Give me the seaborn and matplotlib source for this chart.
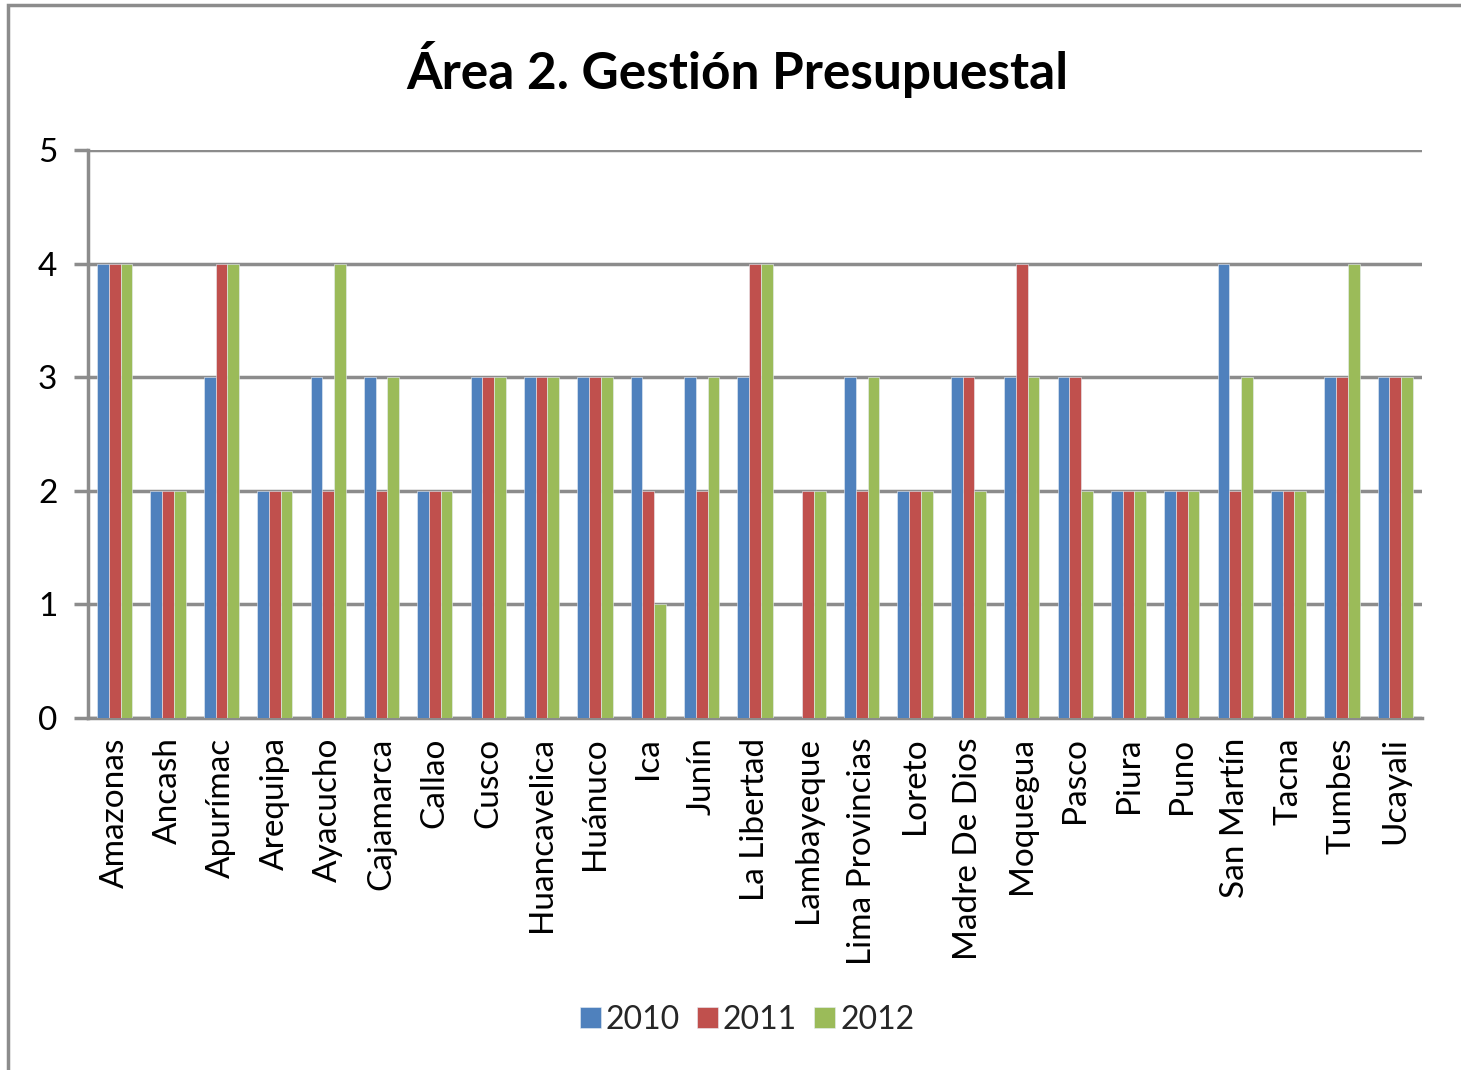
import matplotlib
matplotlib.use("Agg")
import matplotlib.pyplot as plt
import seaborn as sns
import pandas as pd
from matplotlib.patches import Rectangle

regions = ["Amazonas", "Ancash", "Apurímac", "Arequipa", "Ayacucho", "Cajamarca",
           "Callao", "Cusco", "Huancavelica", "Huánuco", "Ica", "Junín",
           "La Libertad", "Lambayeque", "Lima Provincias", "Loreto",
           "Madre De Dios", "Moquegua", "Pasco", "Piura", "Puno", "San Martín",
           "Tacna", "Tumbes", "Ucayali"]
v2010 = [4, 2, 3, 2, 3, 3, 2, 3, 3, 3, 3, 3, 3, 0, 3, 2, 3, 3, 3, 2, 2, 4, 2, 3, 3]
v2011 = [4, 2, 4, 2, 2, 2, 2, 3, 3, 3, 2, 2, 4, 2, 2, 2, 3, 4, 3, 2, 2, 2, 2, 3, 3]
v2012 = [4, 2, 4, 2, 4, 3, 2, 3, 3, 3, 1, 3, 4, 2, 3, 2, 2, 3, 2, 2, 2, 3, 2, 4, 3]
years = ["2010", "2011", "2012"]
colors = ["#4F81BD", "#C0504D", "#9BBB59"]

rows = []
for y, vals in zip(years, [v2010, v2011, v2012]):
    for r, v in zip(regions, vals):
        rows.append({"Región": r, "Año": y, "Valor": v})
df = pd.DataFrame(rows)

sns.set_theme(style="white")
plt.rcParams['font.family'] = ['Lato', 'DejaVu Sans']

fig = plt.figure(figsize=(14.61, 10.70), dpi=100)
ax = fig.add_axes([88/1461, 1-718/1070, (1422-88)/1461, (718-150)/1070])

sns.barplot(data=df, x="Región", y="Valor", hue="Año", palette=colors,
            width=0.66, ax=ax, edgecolor="#e8eef5", linewidth=0.4,
            saturation=1, legend=True, zorder=3)

ax.set_ylim(0, 5)
ax.set_xlim(-0.5, len(regions) - 0.5)
ax.set_yticks([0, 1, 2, 3, 4, 5])
ax.yaxis.grid(True, color="#8c8c8c", linewidth=2.5, zorder=0)
ax.set_axisbelow(True)
ax.set_xlabel("")
ax.set_ylabel("")
for s in ["top", "right"]:
    ax.spines[s].set_visible(False)
for s in ["left", "bottom"]:
    ax.spines[s].set_color("#8c8c8c")
    ax.spines[s].set_linewidth(2.5)
ax.tick_params(axis="y", which="both", left=True, length=10, width=2.5,
               color="#8c8c8c", labelsize=24, pad=12)
ax.tick_params(axis="x", bottom=False, labelsize=24, pad=8)
plt.setp(ax.get_xticklabels(), rotation=90, ha="center", va="top")
for lbl in ax.get_yticklabels() + ax.get_xticklabels():
    lbl.set_color("black")

leg = ax.legend(loc="center", bbox_to_anchor=(747/1461, 1-1020/1070),
                bbox_transform=fig.transFigure, ncol=3, frameon=False,
                fontsize=23, handlelength=0.65, handleheight=0.65,
                handletextpad=0.15, columnspacing=0.55)

fig.text(737/1461, 1-70/1070, "Área 2. Gestión Presupuestal", ha="center",
         va="center", fontsize=37, fontweight="bold", color="black")

fig.patches.append(Rectangle((8/1461, -0.01), 1.1, 1 - 5/1070 + 0.01,
                             transform=fig.transFigure, fill=False,
                             edgecolor="#8c8c8c", linewidth=2.5))

fig.savefig("out.png", dpi=100)
